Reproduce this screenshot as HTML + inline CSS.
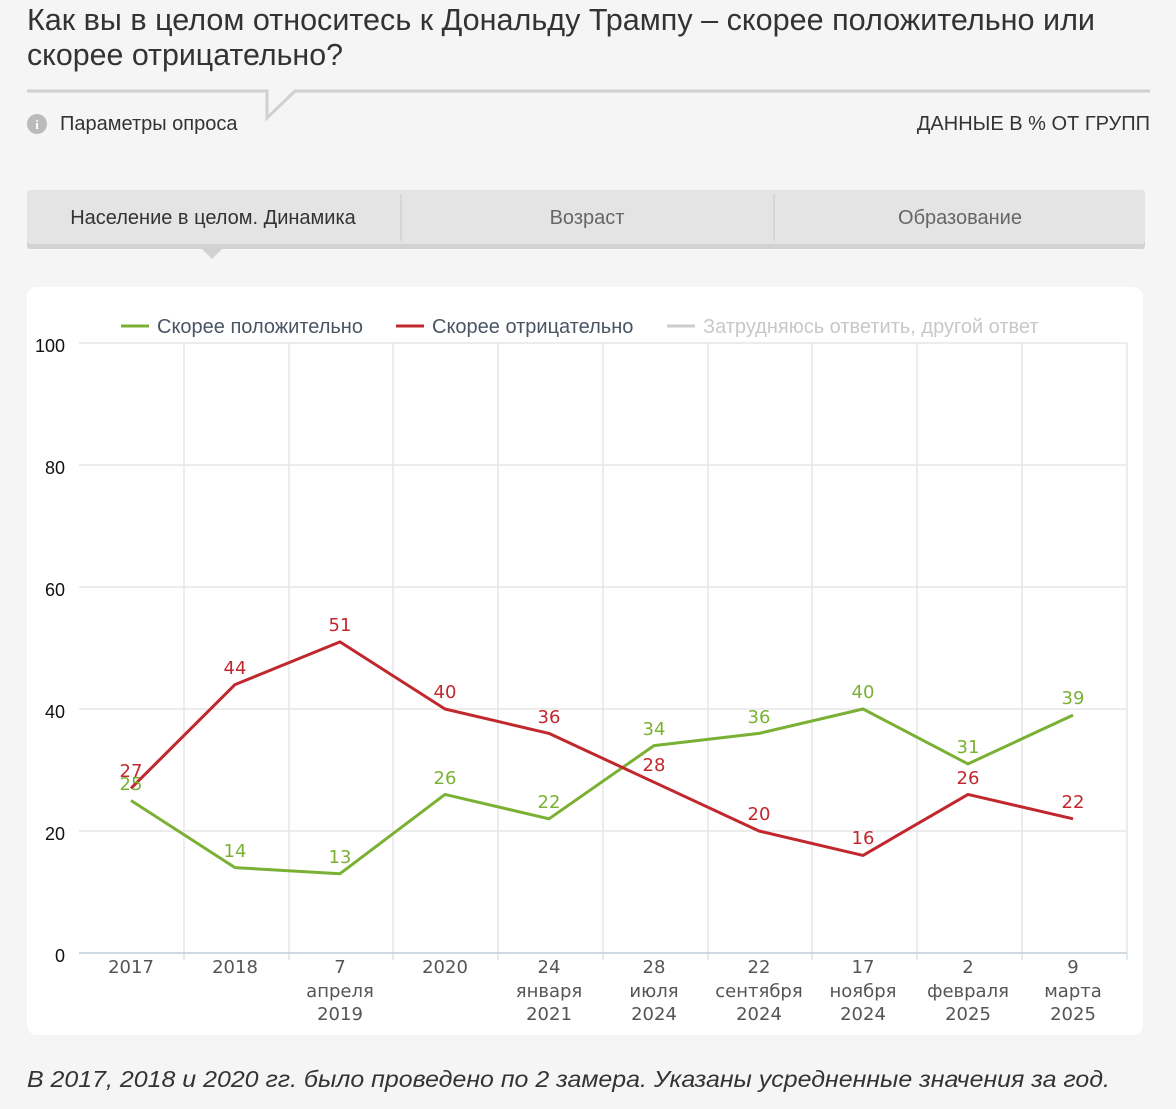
<!DOCTYPE html>
<html><head><meta charset="utf-8"><style>
html,body{margin:0;padding:0;background:#f5f5f5;width:1176px;height:1109px;overflow:hidden}
svg{display:block}
</style></head><body>
<svg width="1176" height="1109" xmlns="http://www.w3.org/2000/svg">
<rect width="1176" height="1109" fill="#f5f5f5"/>
<g font-family="'Liberation Sans Narrow','Liberation Sans',sans-serif" font-size="31" fill="#333">
<text x="27" y="30" textLength="1068" lengthAdjust="spacingAndGlyphs">Как вы в целом относитесь к Дональду Трампу – скорее положительно или</text>
<text x="27" y="65" textLength="316" lengthAdjust="spacingAndGlyphs">скорее отрицательно?</text>
</g>
<polyline points="27,91 267,91 267,118 295,91 1150,91" fill="none" stroke="#d0d0d0" stroke-width="3"/>
<circle cx="37" cy="124" r="10" fill="#bbb"/>
<text x="37" y="129" text-anchor="middle" font-family="Liberation Serif,serif" font-size="13" font-weight="bold" fill="#fff">i</text>
<g font-family="'Liberation Sans',sans-serif" font-size="20" fill="#333">
<text x="60" y="130">Параметры опроса</text>
<text x="1150" y="130" text-anchor="end">ДАННЫЕ В % ОТ ГРУПП</text>
</g>
<rect x="27" y="192" width="1118" height="57" rx="3" fill="#d2d2d2"/>
<rect x="27" y="190" width="1118" height="54" rx="3" fill="#e4e4e4"/>
<line x1="401" y1="194" x2="401" y2="241" stroke="#c8c8c8"/>
<line x1="774" y1="194" x2="774" y2="241" stroke="#c8c8c8"/>
<polygon points="202,249 222,249 212,259" fill="#d2d2d2"/>
<g font-family="'Liberation Sans',sans-serif" font-size="20" text-anchor="middle">
<text x="213" y="224" fill="#333">Население в целом. Динамика</text>
<text x="587" y="224" fill="#666">Возраст</text>
<text x="960" y="224" fill="#666">Образование</text>
</g>
<rect x="27" y="287" width="1116" height="748" rx="10" fill="#fff"/>
<g font-family="'Liberation Sans',sans-serif" font-size="20">
<line x1="121" y1="326" x2="149" y2="326" stroke="#7ab135" stroke-width="3"/>
<text x="157" y="333" fill="#4a5563">Скорее положительно</text>
<line x1="396" y1="326" x2="424" y2="326" stroke="#c1282d" stroke-width="3"/>
<text x="432" y="333" fill="#4a5563">Скорее отрицательно</text>
<line x1="667" y1="326" x2="695" y2="326" stroke="#ccc" stroke-width="3"/>
<text x="703" y="333" fill="#c8c8c8">Затрудняюсь ответить, другой ответ</text>
</g>
<g stroke="#e6e6e6" stroke-width="1.5">
<line x1="79" y1="343" x2="1127" y2="343"/><line x1="79" y1="465" x2="1127" y2="465"/>
<line x1="79" y1="587" x2="1127" y2="587"/><line x1="79" y1="709" x2="1127" y2="709"/>
<line x1="79" y1="831" x2="1127" y2="831"/>
<line x1="184" y1="343" x2="184" y2="953"/><line x1="289" y1="343" x2="289" y2="953"/>
<line x1="393" y1="343" x2="393" y2="953"/><line x1="498" y1="343" x2="498" y2="953"/>
<line x1="603" y1="343" x2="603" y2="953"/><line x1="708" y1="343" x2="708" y2="953"/>
<line x1="812" y1="343" x2="812" y2="953"/><line x1="917" y1="343" x2="917" y2="953"/>
<line x1="1022" y1="343" x2="1022" y2="953"/><line x1="1127" y1="343" x2="1127" y2="953"/>
</g>
<line x1="79" y1="953" x2="1127" y2="953" stroke="#c0ccd8" stroke-width="1.5"/>
<g stroke="#ccd6e0"><line x1="184" y1="953" x2="184" y2="960"/><line x1="289" y1="953" x2="289" y2="960"/><line x1="393" y1="953" x2="393" y2="960"/><line x1="498" y1="953" x2="498" y2="960"/><line x1="603" y1="953" x2="603" y2="960"/><line x1="708" y1="953" x2="708" y2="960"/><line x1="812" y1="953" x2="812" y2="960"/><line x1="917" y1="953" x2="917" y2="960"/><line x1="1022" y1="953" x2="1022" y2="960"/><line x1="1127" y1="953" x2="1127" y2="960"/></g>
<g font-family="'Liberation Sans',sans-serif" font-size="18" fill="#111" text-anchor="end">
<text x="65" y="352">100</text><text x="65" y="474">80</text><text x="65" y="596">60</text>
<text x="65" y="718">40</text><text x="65" y="840">20</text><text x="65" y="962">0</text>
</g>
<g font-family="'DejaVu Sans',sans-serif" font-size="18" fill="#555" text-anchor="middle">
<text x="131" y="973">2017</text><text x="235" y="973">2018</text>
<text x="340" y="973">7</text><text x="340" y="997">апреля</text><text x="340" y="1020">2019</text>
<text x="445" y="973">2020</text>
<text x="549" y="973">24</text><text x="549" y="997">января</text><text x="549" y="1020">2021</text>
<text x="654" y="973">28</text><text x="654" y="997">июля</text><text x="654" y="1020">2024</text>
<text x="759" y="973">22</text><text x="759" y="997">сентября</text><text x="759" y="1020">2024</text>
<text x="863" y="973">17</text><text x="863" y="997">ноября</text><text x="863" y="1020">2024</text>
<text x="968" y="973">2</text><text x="968" y="997">февраля</text><text x="968" y="1020">2025</text>
<text x="1073" y="973">9</text><text x="1073" y="997">марта</text><text x="1073" y="1020">2025</text>
</g>
<polyline fill="none" stroke="#7ab135" stroke-width="3" stroke-linejoin="round" points="131,800.5 235,867.6 340,873.7 445,794.4 549,818.8 654,745.6 759,733.4 863,709 968,763.9 1073,715.1"/>
<polyline fill="none" stroke="#c1282d" stroke-width="3" stroke-linejoin="round" points="131,788.3 235,684.6 340,641.9 445,709 549,733.4 654,782.2 759,831 863,855.4 968,794.4 1073,818.8"/>
<g font-family="'DejaVu Sans',sans-serif" font-size="18" text-anchor="middle" fill="#7ab135">
<text x="131" y="790">25</text><text x="235" y="857">14</text><text x="340" y="863">13</text><text x="445" y="784">26</text><text x="549" y="808">22</text><text x="654" y="735">34</text><text x="759" y="723">36</text><text x="863" y="698">40</text><text x="968" y="753">31</text><text x="1073" y="704">39</text>
</g>
<g font-family="'DejaVu Sans',sans-serif" font-size="18" text-anchor="middle" fill="#c1282d">
<text x="131" y="777">27</text><text x="235" y="674">44</text><text x="340" y="631">51</text><text x="445" y="698">40</text><text x="549" y="723">36</text><text x="654" y="771">28</text><text x="759" y="820">20</text><text x="863" y="844">16</text><text x="968" y="784">26</text><text x="1073" y="808">22</text>
</g>
<text x="27" y="1087" font-family="'Liberation Sans',sans-serif" font-size="23" font-style="italic" fill="#333" textLength="1083" lengthAdjust="spacingAndGlyphs">В 2017, 2018 и 2020 гг. было проведено по 2 замера. Указаны усредненные значения за год.</text>
</svg>
</body></html>
